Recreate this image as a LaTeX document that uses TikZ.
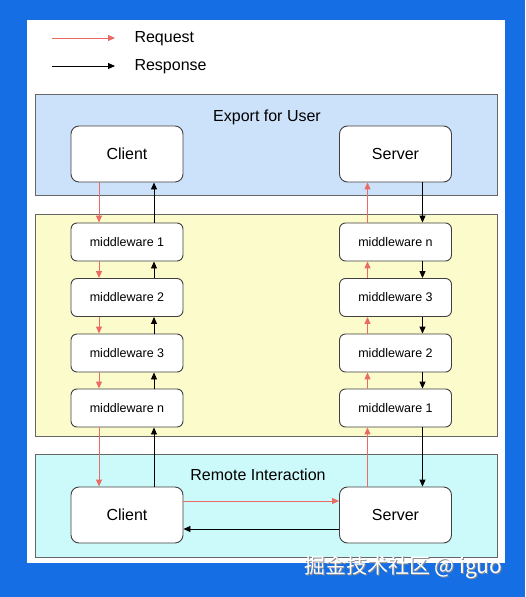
\documentclass[tikz,border=0pt]{standalone}
\usepackage{fontspec}
\setmainfont{Liberation Sans}
\newfontfamily\cjk{Noto Sans CJK SC}
\usetikzlibrary{arrows.meta}
\definecolor{bgblue}{RGB}{22,110,228}
\definecolor{boxblue}{RGB}{204,226,250}
\definecolor{boxyellow}{RGB}{251,251,204}
\definecolor{boxcyan}{RGB}{204,250,250}
\definecolor{reqred}{RGB}{234,107,102}
\definecolor{framegray}{RGB}{102,102,102}
\tikzset{
  container/.style={draw=framegray, line width=0.9pt},
  block/.style={draw=black!75, fill=white, rounded corners=8pt, line width=0.9pt,
    minimum width=112pt, minimum height=56pt, inner sep=0pt, font=\fontsize{16}{18}\selectfont},
  mw/.style={draw=black!75, fill=white, rounded corners=6pt, line width=0.9pt,
    minimum width=112pt, minimum height=38pt, inner sep=0pt, font=\fontsize{12.5}{14}\selectfont},
  req/.style={draw=reqred, line width=1pt, -{Triangle[length=7pt,width=6pt]}},
  resp/.style={draw=black, line width=0.9pt, -{Triangle[length=7pt,width=6pt]}},
  title/.style={font=\fontsize{16}{18}\selectfont},
}
\begin{document}
\begin{tikzpicture}[x=1pt,y=-1pt]
\useasboundingbox (0,0) rectangle (525,597);
\fill[bgblue] (0,0) rectangle (525,597);
\fill[white] (27,20) rectangle (505,563);
% legend
\coordinate (l1a) at (52,38); \coordinate (l1b) at (115,38);
\coordinate (l2a) at (52,66); \coordinate (l2b) at (115,66);
\draw[req] (l1a) -- (l1b);
\draw[resp] (l2a) -- (l2b);
\node[title, anchor=west] (lreq) at (131,39) {Request};
\node[title, anchor=west] (lresp) at (131,67) {Response};
% containers
\draw[container, fill=boxblue] (35,94) rectangle (497,195);
\draw[container, fill=boxyellow] (35,214) rectangle (497,436);
\draw[container, fill=boxcyan] (35,454) rectangle (497,557);
\node[title] (t1) at (267,117) {Export for User};
\node[title] (t2) at (258,475) {Remote Interaction};
% top
\node[block] (c1) at (127,154) {Client};
\node[block] (s1) at (395.5,154) {Server};
% left middlewares
\node[mw] (l1) at (127,242) {middleware 1};
\node[mw] (l2) at (127,297.5) {middleware 2};
\node[mw] (l3) at (127,353) {middleware 3};
\node[mw] (l4) at (127,408) {middleware n};
% right middlewares
\node[mw] (r4) at (395.5,242) {middleware n};
\node[mw] (r3) at (395.5,297.5) {middleware 3};
\node[mw] (r2) at (395.5,353) {middleware 2};
\node[mw] (r1) at (395.5,408) {middleware 1};
% bottom
\node[block] (c2) at (127,515) {Client};
\node[block] (s2) at (395.5,515) {Server};
% left column arrows
\def\lr{-28}\def\lb{27}
\draw[req] ([xshift=\lr]c1.south) -- ([xshift=\lr]l1.north);
\draw[req] ([xshift=\lr]l1.south) -- ([xshift=\lr]l2.north);
\draw[req] ([xshift=\lr]l2.south) -- ([xshift=\lr]l3.north);
\draw[req] ([xshift=\lr]l3.south) -- ([xshift=\lr]l4.north);
\draw[req] ([xshift=\lr]l4.south) -- ([xshift=\lr]c2.north);
\draw[resp] ([xshift=\lb]c2.north) -- ([xshift=\lb]l4.south);
\draw[resp] ([xshift=\lb]l4.north) -- ([xshift=\lb]l3.south);
\draw[resp] ([xshift=\lb]l3.north) -- ([xshift=\lb]l2.south);
\draw[resp] ([xshift=\lb]l2.north) -- ([xshift=\lb]l1.south);
\draw[resp] ([xshift=\lb]l1.north) -- ([xshift=\lb]c1.south);
% right column arrows
\draw[req] ([xshift=\lr]s2.north) -- ([xshift=\lr]r1.south);
\draw[req] ([xshift=\lr]r1.north) -- ([xshift=\lr]r2.south);
\draw[req] ([xshift=\lr]r2.north) -- ([xshift=\lr]r3.south);
\draw[req] ([xshift=\lr]r3.north) -- ([xshift=\lr]r4.south);
\draw[req] ([xshift=\lr]r4.north) -- ([xshift=\lr]s1.south);
\draw[resp] ([xshift=\lb]s1.south) -- ([xshift=\lb]r4.north);
\draw[resp] ([xshift=\lb]r4.south) -- ([xshift=\lb]r3.north);
\draw[resp] ([xshift=\lb]r3.south) -- ([xshift=\lb]r2.north);
\draw[resp] ([xshift=\lb]r2.south) -- ([xshift=\lb]r1.north);
\draw[resp] ([xshift=\lb]r1.south) -- ([xshift=\lb]s2.north);
% remote interaction
\draw[req] ([yshift=14]c2.east) -- ([yshift=14]s2.west);
\draw[resp] ([yshift=-14]s2.west) -- ([yshift=-14]c2.east);
% watermark
\node[anchor=east, text=black!45, font=\cjk\fontsize{21}{23}\selectfont] (wms) at (507,568) {掘金技术社区 @ iguo};
\node[anchor=east, text=white, font=\cjk\fontsize{21}{23}\selectfont] (wm) at (506,567) {掘金技术社区 @ iguo};
\end{tikzpicture}
\end{document}
